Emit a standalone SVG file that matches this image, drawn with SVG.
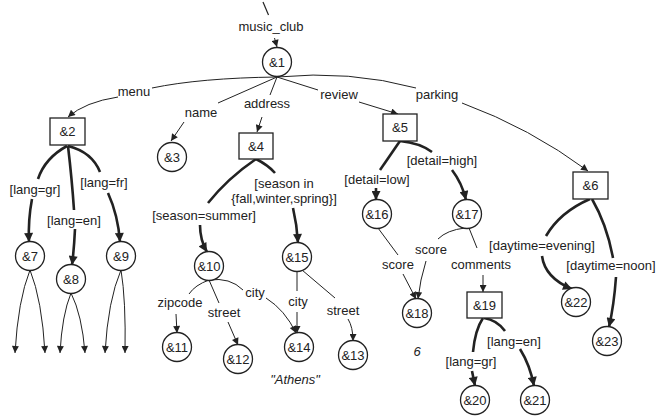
<svg xmlns="http://www.w3.org/2000/svg" width="657" height="418" viewBox="0 0 657 418">
<defs>
<style>
text{font-family:"Liberation Sans",Arial,sans-serif;font-size:13px;fill:#222;text-anchor:middle}
.it{font-style:italic}
.n circle,.n rect{fill:#fff;stroke:#222;stroke-width:1.3}
.c path{fill:none;stroke:#222;stroke-width:1}
.c path.t{stroke-width:2.6}
.c path.a{marker-end:url(#ah)}
.c path.t.a{marker-end:url(#aT)}
</style>
<marker id="ah" viewBox="0 0 10 10" refX="10" refY="5" markerWidth="8" markerHeight="7" markerUnits="userSpaceOnUse" orient="auto"><path d="M0,0 L10,5 L0,10 z" fill="#222"/></marker>
<marker id="aT" viewBox="0 0 10 10" refX="10" refY="5" markerWidth="11" markerHeight="9" markerUnits="userSpaceOnUse" orient="auto"><path d="M0,0 L10,5 L0,10 z" fill="#222"/></marker>
</defs>
<rect width="657" height="418" fill="#fff"/>
<g id="connectors" class="c">
<path d="M263,2 L268.5,15" style="stroke-width:1.2"/>
<path class="a" d="M274.5,38 L277,47"/>
<path d="M277,77 Q200,78 152,88"/>
<path class="a" d="M118,97 Q85,102 68,117"/>
<path d="M277,77 L218,103"/>
<path class="a" d="M184,122 L171,141"/>
<path d="M277,77 L270,95"/>
<path class="a" d="M262,117 L257,132"/>
<path d="M277,77 L318,90"/>
<path class="a" d="M359,102 L398,114"/>
<path d="M277,77 Q350,70 416,88"/>
<path class="a" d="M462,103 Q530,128 588,171"/>
<path class="t" d="M67,146 Q45,158 38,179"/>
<path class="t a" d="M32,199 Q28,220 29,242"/>
<path class="t" d="M68,146 Q72,180 74,210"/>
<path class="t a" d="M75,229 Q74,250 72,265"/>
<path class="t" d="M68,146 Q92,152 100,172"/>
<path class="t a" d="M108,193 Q118,215 120,242"/>
<path class="a" d="M30,270 Q18,300 15,353"/>
<path class="a" d="M30,270 Q42,300 45,353"/>
<path class="a" d="M71,293 Q62,315 60,353"/>
<path class="a" d="M71,293 Q82,315 85,353"/>
<path class="a" d="M121,270 Q108,300 105,353"/>
<path class="a" d="M121,270 Q126,300 125,353"/>
<path class="t" d="M256,159 Q228,178 208,203"/>
<path class="t a" d="M200,225 Q200,240 207,252"/>
<path class="t" d="M256,159 Q268,165 275,173"/>
<path class="t a" d="M293,208 Q297,225 298,243"/>
<path d="M209,280 Q195,285 189,294"/>
<path class="a" d="M176,314 L177,333"/>
<path d="M209,280 L219,303"/>
<path class="a" d="M228,322 L238,345"/>
<path d="M209,280 Q230,277 243,290"/>
<path class="a" d="M266,298 Q285,310 296,333"/>
<path d="M297,271 L297,291"/>
<path class="a" d="M297,312 L297,333"/>
<path d="M302,270 L335,298"/>
<path class="a" d="M348,319 Q353,327 353,341"/>
<path class="t" d="M400,141 L380,170"/>
<path class="t a" d="M376,188 L376,200"/>
<path class="t" d="M400,141 Q420,143 432,152"/>
<path class="t a" d="M452,170 Q462,183 466,200"/>
<path d="M378,228 L398,255"/>
<path class="a" d="M403,274 L416,299"/>
<path d="M465,228 Q447,230 438,239"/>
<path class="a" d="M426,261 Q420,280 418,299"/>
<path d="M469,228 L477,248"/>
<path class="a" d="M483,275 L483,292"/>
<path class="t" d="M483,318 Q475,330 473,352"/>
<path class="t a" d="M472,371 L475,386"/>
<path class="t" d="M484,318 Q497,320 505,331"/>
<path class="t a" d="M520,349 Q530,365 534,386"/>
<path class="t" d="M590,199 Q560,212 546,236"/>
<path class="t a" d="M542,256 Q545,278 572,289"/>
<path class="t" d="M592,199 Q607,225 613,258"/>
<path class="t a" d="M616,277 Q614,305 609,327"/>
</g>
<g id="labels">
<text x="271" y="31">music_club</text>
<text x="134" y="96">menu</text>
<text x="201" y="117">name</text>
<text x="267" y="108">address</text>
<text x="339" y="99">review</text>
<text x="437" y="99">parking</text>
<text x="35" y="194">[lang=gr]</text>
<text x="104" y="187">[lang=fr]</text>
<text x="74" y="225">[lang=en]</text>
<text x="204" y="220">[season=summer]</text>
<text x="284" y="188">[season in</text>
<text x="284" y="203">{fall,winter,spring}]</text>
<text x="377" y="184">[detail=low]</text>
<text x="442" y="165">[detail=high]</text>
<text x="542" y="250">[daytime=evening]</text>
<text x="611" y="270">[daytime=noon]</text>
<text x="180" y="307">zipcode</text>
<text x="224" y="317">street</text>
<text x="255" y="297">city</text>
<text x="298" y="306">city</text>
<text x="343" y="315">street</text>
<text x="398" y="269">score</text>
<text x="431" y="254">score</text>
<text x="481" y="269">comments</text>
<text x="471" y="366">[lang=gr]</text>
<text x="514" y="346">[lang=en]</text>
<text class="it" x="295" y="384">"Athens"</text>
<text class="it" x="417" y="356">6</text>
</g>
<g id="n1" class="n"><circle cx="277" cy="62" r="14.5"/><text x="277" y="67">&amp;1</text></g>
<g id="n2" class="n"><rect x="50" y="118" width="35" height="27"/><text x="67.5" y="136">&amp;2</text></g>
<g id="n3" class="n"><circle cx="172" cy="157" r="14.5"/><text x="172" y="162">&amp;3</text></g>
<g id="n4" class="n"><rect x="239" y="133" width="34" height="26"/><text x="256" y="151">&amp;4</text></g>
<g id="n5" class="n"><rect x="383" y="114" width="34" height="27"/><text x="400" y="132">&amp;5</text></g>
<g id="n6" class="n"><rect x="573" y="172" width="35" height="27"/><text x="590.5" y="190">&amp;6</text></g>
<g id="n7" class="n"><circle cx="30" cy="256" r="14.5"/><text x="30" y="261">&amp;7</text></g>
<g id="n8" class="n"><circle cx="71" cy="279" r="14.5"/><text x="71" y="284">&amp;8</text></g>
<g id="n9" class="n"><circle cx="121" cy="256" r="14.5"/><text x="121" y="261">&amp;9</text></g>
<g id="n10" class="n"><circle cx="209" cy="266" r="14.5"/><text x="209" y="271">&amp;10</text></g>
<g id="n11" class="n"><circle cx="177" cy="347" r="14.5"/><text x="177" y="352">&amp;11</text></g>
<g id="n12" class="n"><circle cx="238" cy="359" r="14.5"/><text x="238" y="364">&amp;12</text></g>
<g id="n13" class="n"><circle cx="353" cy="355" r="14.5"/><text x="353" y="360">&amp;13</text></g>
<g id="n14" class="n"><circle cx="299" cy="347" r="14.5"/><text x="299" y="352">&amp;14</text></g>
<g id="n15" class="n"><circle cx="297" cy="257" r="14.5"/><text x="297" y="262">&amp;15</text></g>
<g id="n16" class="n"><circle cx="377" cy="214" r="14.5"/><text x="377" y="219">&amp;16</text></g>
<g id="n17" class="n"><circle cx="467" cy="214" r="14.5"/><text x="467" y="219">&amp;17</text></g>
<g id="n18" class="n"><circle cx="417" cy="313" r="14.5"/><text x="417" y="318">&amp;18</text></g>
<g id="n19" class="n"><rect x="467" y="292" width="35" height="26"/><text x="484.5" y="310">&amp;19</text></g>
<g id="n20" class="n"><circle cx="475" cy="400" r="14.5"/><text x="475" y="405">&amp;20</text></g>
<g id="n21" class="n"><circle cx="535" cy="400" r="14.5"/><text x="535" y="405">&amp;21</text></g>
<g id="n22" class="n"><circle cx="576" cy="302" r="14.5"/><text x="576" y="307">&amp;22</text></g>
<g id="n23" class="n"><circle cx="607" cy="341" r="14.5"/><text x="607" y="346">&amp;23</text></g>
</svg>
